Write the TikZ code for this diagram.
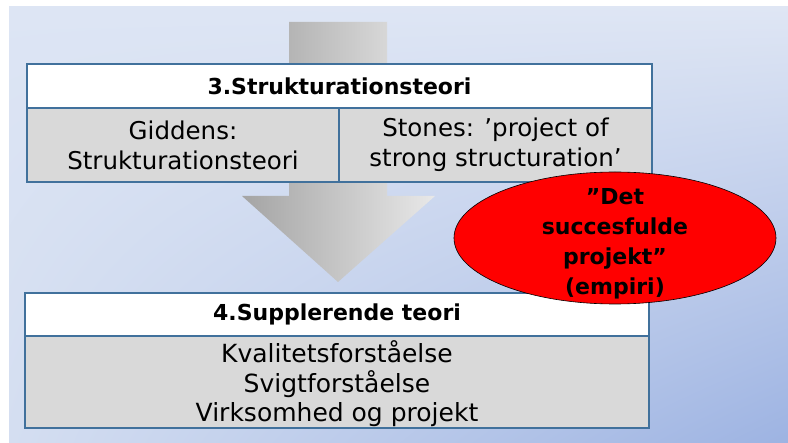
\documentclass[tikz,border=0pt]{standalone}
\usepackage{fontspec}
\setmainfont{DejaVu Sans}
\usetikzlibrary{shapes.geometric,shadings}
\definecolor{bgUL}{HTML}{DDE5F4}
\definecolor{bgUR}{HTML}{DFE6F4}
\definecolor{bgLL}{HTML}{D4DEF1}
\definecolor{bgLR}{HTML}{9DB3E2}
\definecolor{tblborder}{HTML}{41719C}
\definecolor{cellgray}{HTML}{D9D9D9}
\definecolor{arrL}{HTML}{A4A4A4}
\definecolor{arrR}{HTML}{E8E8E8}
\tikzset{
  cell/.style={draw=tblborder, line width=1.3pt, inner sep=0pt, align=center, text=black},
  titlecell/.style={cell, fill=white, font=\fontsize{22}{26}\selectfont\bfseries},
  bodycell/.style={cell, fill=cellgray, font=\fontsize{24.5}{30}\selectfont},
  bubble/.style={ellipse, draw=black, line width=0.6pt, fill=red, inner sep=0pt},
  bubbletext/.style={inner sep=0pt, align=center, text=black,
    font=\fontsize{22}{30}\selectfont\bfseries}
}
\begin{document}
\begin{tikzpicture}[x=1pt,y=-1pt]
\useasboundingbox (0,0) rectangle (788,443);
\fill[white] (0,0) rectangle (788,443);
\shade[upper left=bgUL, upper right=bgUR, lower left=bgLL, lower right=bgLR] (9,7) rectangle (788,443);
% block arrow
\shade[left color=arrL, right color=arrR]
  (289,22) -- (387,22) -- (387,196) -- (435,196) -- (338,282) -- (242,196) -- (289,196) -- cycle;
% top table
\node[titlecell, minimum width=625pt, minimum height=44pt] (t3) at (339.5,86) {3.Strukturationsteori};
\node[bodycell, minimum width=312pt, minimum height=74pt] (t3a) at (183,145) {Giddens:\\Strukturationsteori};
\node[bodycell, minimum width=313pt, minimum height=74pt] (t3b) at (495.5,145) {Stones: ’project of\\strong structuration’};
% bottom table
\node[titlecell, minimum width=624pt, minimum height=43pt] (t4) at (337,314.5) {4.Supplerende teori};
\node[bodycell, minimum width=624pt, minimum height=92pt] (t4a) at (337,382) {};
\node[inner sep=0pt, align=center, font=\fontsize{25}{29.5}\selectfont] (t4txt) at (337,384) {Kvalitetsforståelse\\Svigtforståelse\\Virksomhed og projekt};
% ellipse
\node[bubble, minimum width=322pt, minimum height=132pt] (emp) at (615,238) {};
\node[bubbletext] (emptxt) at (615,244) {”Det\\succesfulde\\projekt”\\(empiri)};
\end{tikzpicture}
\end{document}
